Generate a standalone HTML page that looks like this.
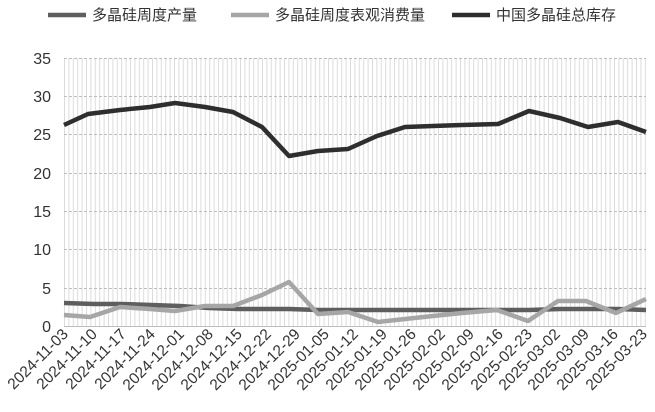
<!DOCTYPE html>
<html><head><meta charset="utf-8"><style>
body{margin:0;background:#fff;}
svg{display:block;font-family:"Liberation Sans","Noto Sans CJK SC",sans-serif;}
</style></head><body>
<svg width="655" height="412" viewBox="0 0 655 412">
<defs>
<pattern id="vg" x="64" y="0" width="4.4" height="10" patternUnits="userSpaceOnUse">
<line x1="0.5" y1="0" x2="0.5" y2="10" stroke="#dcdcdc" stroke-width="1"/>
</pattern>
</defs>
<rect x="64" y="58" width="582" height="268" fill="url(#vg)"/>
<g stroke="#bdbdbd" stroke-width="1" stroke-dasharray="3,2">
<line x1="64" y1="58.5" x2="646" y2="58.5"/>
<line x1="64" y1="96.5" x2="646" y2="96.5"/>
<line x1="64" y1="134.5" x2="646" y2="134.5"/>
<line x1="64" y1="173.5" x2="646" y2="173.5"/>
<line x1="64" y1="211.5" x2="646" y2="211.5"/>
<line x1="64" y1="249.5" x2="646" y2="249.5"/>
<line x1="64" y1="288.5" x2="646" y2="288.5"/>
</g>
<line x1="64" y1="326.5" x2="646" y2="326.5" stroke="#bdbdbd" stroke-width="1"/>
<g fill="#333" font-size="16" text-anchor="end">
<text x="51" y="64">35</text><text x="51" y="102">30</text><text x="51" y="140">25</text>
<text x="51" y="179">20</text><text x="51" y="217">15</text><text x="51" y="255">10</text>
<text x="51" y="294">5</text><text x="51" y="332">0</text>
</g>
<g fill="none" stroke-linejoin="round" stroke-width="4.5">
<polyline stroke="#5e5e5e" points="64,303 94,304 122,304 151,305 180,306 209,308 238,309 267,309 289,309 318,310 348,310 377,310 405,310 433,310 462,310 498,310 529,310 560,309 588,309 618,309 646,310"/>
<polyline stroke="#a6a6a6" points="64,315 90,317 120,307 150,309 175,311 205,306 233,306 262,295 289,282 318,314 348,312 378,322 405,319 433,316 462,313 497,310 528,321 558,301 586,301 616,313 646,299"/>
<polyline stroke="#2e2e2e" points="64,125 88,114 120,110 150,107 175,103 205,107 233,112 262,127 289,156 318,151 348,149 377,136 405,127 433,126 462,125 498,124 529,111 560,118 588,127 618,122 646,132"/>
</g>
<g fill="#333" font-size="15.5" text-anchor="end">
<text transform="translate(69,335) rotate(-45)">2024-11-03</text>
<text transform="translate(98,335) rotate(-45)">2024-11-10</text>
<text transform="translate(127,335) rotate(-45)">2024-11-17</text>
<text transform="translate(156,335) rotate(-45)">2024-11-24</text>
<text transform="translate(185,335) rotate(-45)">2024-12-01</text>
<text transform="translate(214,335) rotate(-45)">2024-12-08</text>
<text transform="translate(243,335) rotate(-45)">2024-12-15</text>
<text transform="translate(272,335) rotate(-45)">2024-12-22</text>
<text transform="translate(301,335) rotate(-45)">2024-12-29</text>
<text transform="translate(330,335) rotate(-45)">2025-01-05</text>
<text transform="translate(359,335) rotate(-45)">2025-01-12</text>
<text transform="translate(388,335) rotate(-45)">2025-01-19</text>
<text transform="translate(417,335) rotate(-45)">2025-01-26</text>
<text transform="translate(446,335) rotate(-45)">2025-02-02</text>
<text transform="translate(475,335) rotate(-45)">2025-02-09</text>
<text transform="translate(504,335) rotate(-45)">2025-02-16</text>
<text transform="translate(533,335) rotate(-45)">2025-02-23</text>
<text transform="translate(561,335) rotate(-45)">2025-03-02</text>
<text transform="translate(590,335) rotate(-45)">2025-03-09</text>
<text transform="translate(619,335) rotate(-45)">2025-03-16</text>
<text transform="translate(648,335) rotate(-45)">2025-03-23</text>
</g>
<g font-size="15" fill="#333">
<line x1="48" y1="15" x2="86" y2="15" stroke="#5e5e5e" stroke-width="4.5"/>
<text x="92" y="20">多晶硅周度产量</text>
<line x1="231" y1="15" x2="269" y2="15" stroke="#a6a6a6" stroke-width="4.5"/>
<text x="275" y="20">多晶硅周度表观消费量</text>
<line x1="452" y1="15" x2="490" y2="15" stroke="#2e2e2e" stroke-width="4.5"/>
<text x="496" y="20">中国多晶硅总库存</text>
</g>
</svg>
</body></html>
